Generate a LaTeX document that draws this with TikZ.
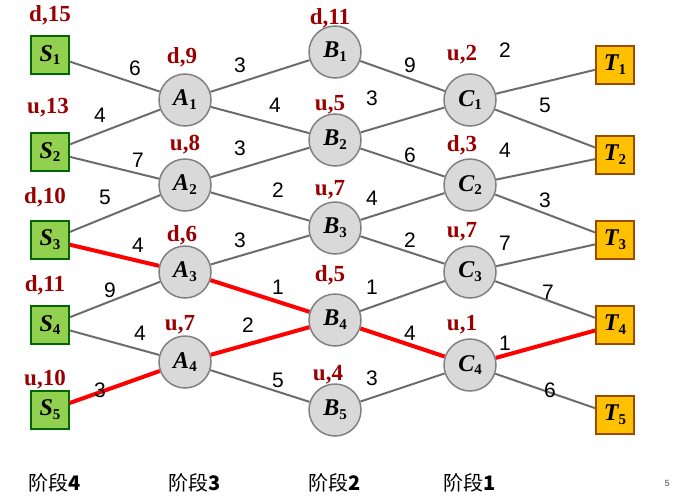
\documentclass[tikz,border=0pt]{standalone}
\usepackage{fontspec}
\setmainfont{Liberation Serif}
\newfontfamily\arial{Liberation Sans}
\newfontfamily\cjk{Noto Sans CJK SC}
\definecolor{sgreen}{HTML}{92D050}
\definecolor{tyel}{HTML}{FFC000}
\newcommand{\nl}[2]{#1\raisebox{-0.35ex}{\fontsize{15}{15}\selectfont\upshape\bfseries #2}}
\begin{document}
\begin{tikzpicture}[x=1pt,y=-1pt,
 sbox/.style={draw=green!40!black,fill=sgreen,line width=1.5pt,minimum size=38pt,inner sep=0pt,font=\fontsize{24}{24}\selectfont\bfseries\itshape},
 tbox/.style={draw=orange!60!black,fill=tyel,line width=1.5pt,minimum size=38pt,inner sep=0pt,font=\fontsize{24}{24}\selectfont\bfseries\itshape},
 cnode/.style={circle,draw=gray,fill=gray!30,line width=1.5pt,minimum size=52pt,inner sep=0pt,font=\fontsize{24}{24}\selectfont\bfseries\itshape},
 edge/.style={draw=gray!85!black,line width=2pt},
 redge/.style={draw=red,line width=4pt},
 lbl/.style={font=\arial\fontsize{21}{21}\selectfont},
 tag/.style={text=red!60!black,font=\fontsize{23}{23}\selectfont\bfseries},
 stage/.style={font=\fontsize{20}{20}\selectfont}]
\useasboundingbox (0,0) rectangle (687,498);
\node[sbox] (S1) at (50,55) {\nl{S}{1}};
\node[sbox] (S2) at (50,152) {\nl{S}{2}};
\node[sbox] (S3) at (50,240) {\nl{S}{3}};
\node[sbox] (S4) at (50,325) {\nl{S}{4}};
\node[sbox] (S5) at (50,410) {\nl{S}{5}};
\node[cnode] (A1) at (185,100) {\nl{A}{1}};
\node[cnode] (A2) at (185,185) {\nl{A}{2}};
\node[cnode] (A3) at (185,272) {\nl{A}{3}};
\node[cnode] (A4) at (185,362) {\nl{A}{4}};
\node[cnode] (B1) at (335,52) {\nl{B}{1}};
\node[cnode] (B2) at (335,140) {\nl{B}{2}};
\node[cnode] (B3) at (335,228) {\nl{B}{3}};
\node[cnode] (B4) at (335,320) {\nl{B}{4}};
\node[cnode] (B5) at (335,410) {\nl{B}{5}};
\node[cnode] (C1) at (470,100) {\nl{C}{1}};
\node[cnode] (C2) at (470,185) {\nl{C}{2}};
\node[cnode] (C3) at (470,272) {\nl{C}{3}};
\node[cnode] (C4) at (470,365) {\nl{C}{4}};
\node[tbox] (T1) at (615,65) {\nl{T}{1}};
\node[tbox] (T2) at (615,155) {\nl{T}{2}};
\node[tbox] (T3) at (615,240) {\nl{T}{3}};
\node[tbox] (T4) at (615,325) {\nl{T}{4}};
\node[tbox] (T5) at (615,415) {\nl{T}{5}};
\foreach \a/\b in {S1/A1,S2/A1,S2/A2,S3/A2,S4/A3,S4/A4,A1/B1,A1/B2,A2/B2,A2/B3,A3/B3,A4/B5,B1/C1,B2/C1,B2/C2,B3/C2,B3/C3,B4/C3,B5/C4,C1/T1,C1/T2,C2/T2,C2/T3,C3/T3,C3/T4,C4/T5}
  \draw[edge] (\a) -- (\b);
\foreach \a/\b in {S3/A3,S5/A4,A3/B4,A4/B4,B4/C4,C4/T4}
  \draw[redge] (\a) -- (\b);
\foreach \n/\x/\y/\t in {l1/135/68/6,l2/100/115/4,l3/138/160/7,l4/105/197/5,l5/138/245/4,l6/110/290/9,l7/140/333/4,l8/100/390/3,
 l9/240/65/3,l10/275/105/4,l11/240/148/3,l12/278/190/2,l13/240/240/3,l14/278/287/1,l15/248/325/2,l16/278/380/5,
 l17/410/65/9,l18/372/98/3,l19/410/155/6,l20/372/198/4,l21/410/240/2,l22/372/287/1,l23/410/333/4,l24/372/378/3,
 l25/505/50/2,l26/545/105/5,l27/505/150/4,l28/545/200/3,l29/505/243/7,l30/548/292/7,l31/505/343/1,l32/550/390/6}
  \node[lbl] (\n) at (\x,\y) {\t};
\foreach \n/\x/\y/\t in {tS1/50/15/{d,15},tS2/48/108/{u,13},tS3/45/197/{d,10},tS4/45/285/{d,11},tS5/45/380/{u,10},
 tA1/182/57/{d,9},tA2/185/145/{u,8},tA3/182/235/{d,6},tA4/180/325/{u,7},
 tB1/330/18/{d,11},tB2/330/105/{u,5},tB3/330/190/{u,7},tB4/330/275/{d,5},tB5/328/375/{u,4},
 tC1/462/55/{u,2},tC2/462/145/{d,3},tC3/462/232/{u,7},tC4/462/325/{u,1}}
  \node[tag] (\n) at (\x,\y) {\t};
\node[stage] (g4) at (55,483) {\cjk 阶段\textbf{4}};
\node[stage] (g3) at (195,483) {\cjk 阶段\textbf{3}};
\node[stage] (g2) at (335,483) {\cjk 阶段\textbf{2}};
\node[stage] (g1) at (470,483) {\cjk 阶段\textbf{1}};
\node[font=\arial\bfseries\small,text=gray] (pg) at (667,483) {5};
\end{tikzpicture}
\end{document}
